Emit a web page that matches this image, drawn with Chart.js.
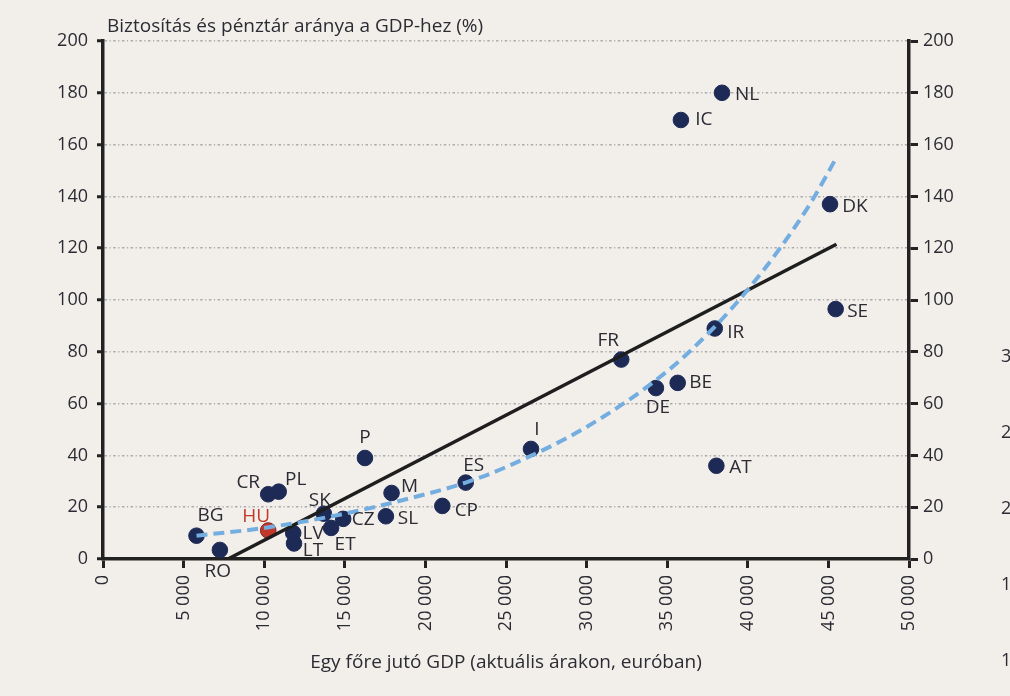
<!DOCTYPE html>
<html>
<head>
  <style>
    html, body { margin: 0; padding: 0; background: #f2efea; }
    canvas { display: block; }
  </style>
</head>
<body>
  <canvas id="myChart" width="1010" height="696"></canvas>

  <script src="https://cdn.jsdelivr.net/npm/chart.js"></script>
  <script>
    // country codes and read-off values
    const countries = ['BG', 'RO', 'HU', 'CR', 'PL', 'LV', 'LT', 'SK', 'ET', 'CZ', 'P', 'M', 'SL', 'CP', 'ES', 'I', 'FR', 'DE', 'BE', 'IR', 'AT', 'SE', 'IC', 'NL', 'DK'];
    const gdpPerCapita = [5800, 7250, 10250, 10250, 10900, 11800, 11850, 13700, 14150, 14900, 16250, 17900, 17550, 21050, 22500, 26550, 32150, 34300, 35650, 37950, 38050, 45450, 35850, 38400, 45100];
    const insuranceShare = [9, 3.5, 11, 25, 26, 10, 6, 17.5, 12, 15.5, 39, 25.5, 16.5, 20.5, 29.5, 42.5, 77, 66, 68, 89, 36, 96.5, 169.5, 180, 137];

    // trend lines
    const linearTrendX = [7750, 45500];
    const linearTrendY = [0, 121.5];
    const expTrendX = [5800, 10000, 15000, 20000, 22500, 25000, 30000, 35000, 38000, 40000, 42000, 44000, 45500];
    const expTrendY = [9, 12, 17.5, 25, 29.5, 35.5, 51, 72.5, 90, 104, 120, 138.5, 155];

    const xTickLabels = ['0', '5 000', '10 000', '15 000', '20 000', '25 000', '30 000', '35 000', '40 000', '45 000', '50 000'];
    const yTickLabels = ['0', '20', '40', '60', '80', '100', '120', '140', '160', '180', '200'];

    const titleText = 'Biztosítás és pénztár aránya a GDP-hez (%)';
    const xTitleText = 'Egy főre jutó GDP (aktuális árakon, euróban)';
    const edgeDigits = ['3', '2', '2', '1', '1'];

    const navy = '#1d2a55';
    const red = '#c0392b';
    const textColor = '#2b2b33';
    const fontFamily = "'Open Sans', sans-serif";

    // where each label sits relative to its point (px)
    const labelOffsets = {
      BG: [14, -20], RO: [-2, 22], HU: [-12, -14], CR: [-20, -12], PL: [17, -12],
      LV: [20, 0], LT: [19, 7], SK: [-4, -13], ET: [14, 17], CZ: [20, 1],
      P: [0, -20], M: [18, -6], SL: [22, 2], CP: [24, 5], ES: [8, -17],
      I: [6, -19], FR: [-13, -19], DE: [2, 20], BE: [23, 0], IR: [21, 4],
      AT: [24, 2], SE: [22, 3], IC: [23, 0], NL: [25, 2], DK: [25, 2]
    };

    const labelPlugin = {
      id: 'labels',
      afterDatasetsDraw(chart) {
        const c = chart.ctx;
        const xs = chart.scales.x, ys = chart.scales.y;
        c.save();
        c.font = '19px ' + fontFamily;
        c.textAlign = 'center';
        c.textBaseline = 'middle';
        countries.forEach((name, i) => {
          const off = labelOffsets[name] || [18, 0];
          c.fillStyle = name === 'HU' ? red : textColor;
          c.fillText(name, xs.getPixelForValue(gdpPerCapita[i]) + off[0], ys.getPixelForValue(insuranceShare[i]) + off[1]);
        });

        c.fillStyle = textColor;
        c.textAlign = 'left';
        c.font = '19px ' + fontFamily;
        c.fillText(titleText, xs.left + 4, 27);

        c.textAlign = 'center';
        c.fillText(xTitleText, (xs.left + xs.right) / 2, 663);

        c.textAlign = 'left';
        c.font = '18px ' + fontFamily;
        edgeDigits.forEach((d, i) => c.fillText(d, 1001, 357 + i * 76));
        c.restore();
      }
    };

    const scatterData = countries.map((_, i) => ({ x: gdpPerCapita[i], y: insuranceShare[i] }));
    const linearData = linearTrendX.map((x, i) => ({ x: x, y: linearTrendY[i] }));
    const expData = expTrendX.map((x, i) => ({ x: x, y: expTrendY[i] }));

    const tickFont = { family: fontFamily, size: 18 };

    new Chart(document.getElementById('myChart'), {
      type: 'scatter',
      data: {
        datasets: [
          {
            type: 'line',
            label: 'linear',
            data: linearData,
            borderColor: '#1e1e1e',
            borderWidth: 3.5,
            pointRadius: 0,
            order: 1
          },
          {
            type: 'line',
            label: 'exp',
            data: expData,
            borderColor: '#74ade0',
            borderWidth: 4,
            borderDash: [11, 6],
            cubicInterpolationMode: 'monotone',
            pointRadius: 0,
            order: 0
          },
          {
            label: 'countries',
            data: scatterData,
            pointRadius: 7.8,
            backgroundColor: countries.map(n => n === 'HU' ? red : navy),
            borderColor: countries.map(n => n === 'HU' ? '#7e2424' : navy),
            borderWidth: 1,
            order: 2
          }
        ]
      },
      options: {
        responsive: false,
        animation: false,
        layout: { padding: { top: 41, left: 0, right: 0, bottom: 0 } },
        plugins: {
          legend: { display: false },
          tooltip: { enabled: false }
        },
        scales: {
          x: {
            type: 'linear',
            min: 0,
            max: 50000,
            afterFit: s => { s.height = 137; },
            ticks: {
              stepSize: 5000,
              autoSkip: false,
              minRotation: 90,
              maxRotation: 90,
              padding: 7,
              color: textColor,
              font: tickFont,
              callback: (v, i) => xTickLabels[i]
            },
            grid: {
              drawOnChartArea: false,
              drawTicks: true,
              tickLength: 9,
              tickColor: '#222',
              tickWidth: 3,
              tickBorderDash: []
            },
            border: { display: true, color: '#222', width: 3.5 }
          },
          y: {
            type: 'linear',
            position: 'left',
            min: 0,
            max: 200,
            afterFit: s => { s.width = 103; },
            ticks: {
              stepSize: 20,
              padding: 9,
              color: textColor,
              font: tickFont,
              callback: (v, i) => yTickLabels[i]
            },
            grid: {
              color: '#ababab',
              lineWidth: 1.5,
              drawTicks: true,
              tickLength: 6,
              tickColor: '#222',
              tickWidth: 3,
              tickBorderDash: []
            },
            border: { display: true, color: '#222', width: 3.5, dash: [2.5, 2.5, 1.2, 2.5] }
          },
          y2: {
            type: 'linear',
            position: 'right',
            min: 0,
            max: 200,
            afterFit: s => { s.width = 101; },
            ticks: {
              stepSize: 20,
              padding: 5,
              color: textColor,
              font: tickFont,
              callback: (v, i) => yTickLabels[i]
            },
            grid: {
              drawOnChartArea: false,
              drawTicks: true,
              tickLength: 9,
              tickColor: '#222',
              tickWidth: 3,
              tickBorderDash: []
            },
            border: { display: true, color: '#222', width: 3.5 }
          }
        }
      },
      plugins: [labelPlugin]
    });
  </script>
</body>
</html>
